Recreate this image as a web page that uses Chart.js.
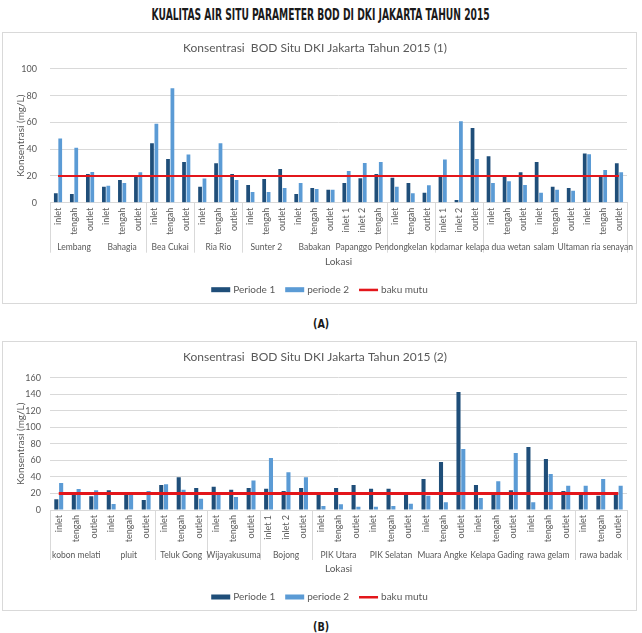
<!DOCTYPE html>
<html><head><meta charset="utf-8">
<script src="https://cdn.jsdelivr.net/npm/chart.js@4.4.1/dist/chart.umd.min.js"></script>
<style>
html,body{margin:0;padding:0;background:#fff;width:642px;height:633px;overflow:hidden}
.main{position:absolute;left:0;top:6px;width:642px;text-align:center}
.main span{display:inline-block;font:bold 15px "Liberation Sans Narrow","DejaVu Sans Condensed","DejaVu Sans",sans-serif;color:#1a1a1a;transform:scaleX(0.68);transform-origin:center;white-space:nowrap}
.box{position:absolute;left:2px;width:633px;border:1px solid #d9d9d9}
#box1{top:32px;height:270px}
#box2{top:341px;height:268px}
.cap{position:absolute;left:0;width:642px;text-align:center;line-height:14px;height:14px}
.cap span{display:inline-block;font:bold 12px/14px "DejaVu Sans",sans-serif;color:#1a1a1a;transform:scaleX(0.8)}
canvas{display:block}
</style></head>
<body>
<div class="main"><span>KUALITAS AIR SITU PARAMETER BOD DI DKI JAKARTA TAHUN 2015</span></div>
<div class="box" id="box1"><canvas id="c1" width="633" height="270"></canvas></div>
<div class="cap" style="top:316px"><span>(A)</span></div>
<div class="box" id="box2"><canvas id="c2" width="633" height="268"></canvas></div>
<div class="cap" style="top:619px"><span>(B)</span></div>
<script>
// ---------- Chart (A) ----------
const catsA = ['inlet','tengah','outlet','inlet','tengah','outlet','inlet','tengah','outlet','inlet','tengah','outlet',
  'inlet','tengah','outlet','inlet','tengah','outlet','inlet 1','inlet 2','tengah','inlet','tengah','outlet',
  'inlet 1','inlet 2','outlet','inlet','tengah','outlet','inlet','tengah','outlet','inlet','tengah','outlet'];
const groupsA = ['Lembang','Bahagia','Bea Cukai','Ria Rio','Sunter 2','Babakan','Papanggo','Pendongkelan','kodamar','kelapa dua wetan','salam','Ultaman ria senayan'];
const groupSizesA = [3,3,3,3,3,3,3,3,3,3,3,3];
const separatorsA = [0,6,9,12,21,24,27,36];
const periode1A = [7,6.5,21.5,12,17,20,44.4,32.7,30.4,12,29.4,21.5,13.2,17.7,25.2,6.5,11,9.7,14.7,18.2,21.5,18.7,14.7,7.5,19.7,2,55.9,34.7,20,22.7,30.4,12,11,36.7,19.7,29.4];
const periode2A = [48,41,23,12.7,14.7,22.7,59,85.5,36,18,44.4,17,8,8,11,14.7,10.2,9.7,23.7,29.7,30.4,12,7,13,32.2,60.8,32.7,14.7,16,13.2,7.5,9.7,9,36.2,24.4,22.7];
const bakuMutuA = [20,20,20,20,20,20,20,20,20,20,20,20,20,20,20,20,20,20,20,20,20,20,20,20,20,20,20,20,20,20,20,20,20,20,20,20];

// ---------- Chart (B) ----------
const catsB = ['inlet','tengah','outlet','inlet','tengah','outlet','inlet','tengah','outlet','inlet','tengah','outlet',
  'inlet 1','inlet 2','outlet','inlet','tengah','outlet','inlet','tengah','outlet','inlet','tengah','outlet',
  'inlet','tengah','outlet','inlet','tengah','outlet','inlet','tengah','outlet'];
const groupsB = ['kobon melati','pluit','Teluk Gong','Wijayakusuma','Bojong','PIK Utara','PIK Selatan','Muara Angke','Kelapa Gading','rawa gelam','rawa badak'];
const groupSizesB = [3,3,3,3,3,3,3,3,3,3,3];
const separatorsB = [0,6,9,12,15,30,33];
const periode1B = [12.9,21.8,16.5,23.8,21.8,12,30.2,39.5,26.6,28.2,24.6,26.6,25.8,23,26.6,19.8,26.6,30.2,25.8,25.8,19.8,37.5,58,142.7,30.2,19.8,23.8,76.2,61.7,23,19.8,17.3,19.8];
const periode2B = [32.7,25.4,23.8,7.3,20,23,31,24.6,13.7,21.8,15.7,35.5,62.9,45.6,39.5,4.8,6.9,4,4,4.8,7.7,17.3,9.3,73.8,14.5,34.7,69,9.3,43.5,29.4,29.4,37.5,29.4];
const bakuMutuB = [20,20,20,20,20,20,20,20,20,20,20,20,20,20,20,20,20,20,20,20,20,20,20,20,20,20,20,20,20,20,20,20,20];

const seriesNames = ['Periode 1','periode 2','baku mutu'];
const DARK = '#1f4e79', LIGHT = '#5b9bd5', RED = '#e3161b', TXT = '#595959', GRID = '#d9d9d9';
const FONT = 'Lato, "Open Sans", sans-serif';

const groupAxisPlugin = {
  id: 'groupAxis',
  afterDraw(chart, args, o) {
    const {ctx, chartArea} = chart;
    const xs = chart.scales.x;
    const base = chartArea.bottom;
    const n = chart.data.labels.length;
    const bx = i => i <= 0 ? chartArea.left : (i >= n ? chartArea.right : (xs.getPixelForValue(i - 1) + xs.getPixelForValue(i)) / 2);
    ctx.save();
    ctx.strokeStyle = GRID; ctx.lineWidth = 1;
    o.separators.forEach(i => {
      const px = Math.round(bx(i)) + 0.5;
      ctx.beginPath(); ctx.moveTo(px, base); ctx.lineTo(px, base + o.sepLen); ctx.stroke();
    });
    ctx.font = '8.5px ' + FONT; ctx.fillStyle = TXT; ctx.textBaseline = 'middle'; ctx.textAlign = 'left';
    let start = 0; const items = [];
    o.groups.forEach((g, k) => {
      const sz = o.sizes[k];
      const c = (xs.getPixelForValue(start) + xs.getPixelForValue(start + sz - 1)) / 2;
      const w = ctx.measureText(g).width;
      items.push({g, l: c - w / 2, w});
      start += sz;
    });
    // relax overlaps between neighbouring labels, keep inside the canvas
    const gap = 3, rightLimit = chart.width - 3;
    for (let iter = 0; iter < 500; iter++) {
      let moved = false;
      for (let k = 0; k < items.length - 1; k++) {
        const a = items[k], b = items[k + 1];
        const ov = a.l + a.w + gap - b.l;
        if (ov > 0.01) { a.l -= ov / 2; b.l += ov / 2; moved = true; }
      }
      const last = items[items.length - 1];
      if (last.l + last.w > rightLimit) { last.l = rightLimit - last.w; moved = true; }
      if (!moved) break;
    }
    items.forEach(it => ctx.fillText(it.g, it.l, base + o.groupY));
    // legend
    ctx.font = '10px ' + FONT;
    const ds = chart.data.datasets;
    const boxW = 19, gapT = 3, gapI = 10;
    let total = 0;
    const widths = ds.map(d => ctx.measureText(d.label).width);
    widths.forEach((w, i) => { total += boxW + gapT + w + (i < widths.length - 1 ? gapI : 0); });
    let x = chart.width / 2 - total / 2;
    const y = base + o.legendY;
    ds.forEach((d, i) => {
      if (d.type === 'line') {
        ctx.fillStyle = d.borderColor; ctx.fillRect(x, y - 1, boxW, 2.5);
      } else {
        ctx.fillStyle = d.backgroundColor; ctx.fillRect(x, y - 2.5, boxW, 5);
      }
      ctx.fillStyle = TXT;
      ctx.fillText(d.label, x + boxW + gapT, y);
      x += boxW + gapT + widths[i] + gapI;
    });
    ctx.restore();
  }
};

function makeChart(id, cats, p1, p2, bm, cfg) {
  return new Chart(document.getElementById(id), {
    type: 'bar',
    data: {
      labels: cats,
      datasets: [
        {type: 'bar', label: seriesNames[0], data: p1, backgroundColor: DARK, order: 1, categoryPercentage: 0.55, barPercentage: 0.85},
        {type: 'bar', label: seriesNames[1], data: p2, backgroundColor: LIGHT, order: 2, categoryPercentage: 0.55, barPercentage: 0.85},
        {type: 'line', label: seriesNames[2], data: bm, borderColor: RED, backgroundColor: RED, borderWidth: cfg.lineW, pointRadius: 0, fill: false, order: 0}
      ]
    },
    options: {
      responsive: false, animation: false,
      layout: {padding: {left: 0, right: cfg.right, top: 0, bottom: 0}},
      plugins: {
        legend: {display: false}, tooltip: {enabled: false},
        title: {display: true, text: cfg.title, color: TXT, font: {family: FONT, size: 12, weight: 'normal'}, padding: {top: cfg.tTop, bottom: cfg.tBot}},
        groupAxis: {groups: cfg.groups, sizes: cfg.sizes, separators: cfg.seps, sepLen: 50, groupY: 45, legendY: 87}
      },
      scales: {
        x: {
          offset: true,
          grid: {display: false, drawTicks: false},
          border: {display: true, color: GRID},
          ticks: {autoSkip: false, maxRotation: 90, minRotation: 90, padding: 5, color: TXT, font: {family: FONT, size: 9}},
          title: {display: true, text: 'Lokasi', color: TXT, font: {family: FONT, size: 10}, padding: {top: 0, bottom: 35}},
          afterFit: s => { s.height = cfg.xH; }
        },
        y: {
          min: 0, max: cfg.max,
          grid: {color: GRID, drawTicks: false},
          border: {display: false},
          ticks: {stepSize: cfg.step, padding: cfg.yPad, color: TXT, font: {family: FONT, size: 9}},
          title: {display: true, text: 'Konsentrasi (mg/L)', color: TXT, font: {family: FONT, size: 10}, padding: {top: cfg.yTitlePad, bottom: 0}},
          afterFit: s => { s.width = 47; }
        }
      }
    },
    plugins: [groupAxisPlugin]
  });
}

makeChart('c1', catsA, periode1A, periode2A, bakuMutuA, {
  title: 'Konsentrasi  BOD Situ DKI Jakarta Tahun 2015 (1)', groups: groupsA, sizes: groupSizesA, seps: separatorsA,
  max: 100, step: 10, lineW: 2, right: 9, tTop: 7.5, tBot: 14, xH: 100.3, yPad: 13, yTitlePad: 11.5
});
makeChart('c2', catsB, periode1B, periode2B, bakuMutuB, {
  title: 'Konsentrasi  BOD Situ DKI Jakarta Tahun 2015 (2)', groups: groupsB, sizes: groupSizesB, seps: separatorsB,
  max: 160, step: 20, lineW: 3, right: 9, tTop: 8, tBot: 13.2, xH: 100, yPad: 9, yTitlePad: 12
});
</script>
</body></html>
